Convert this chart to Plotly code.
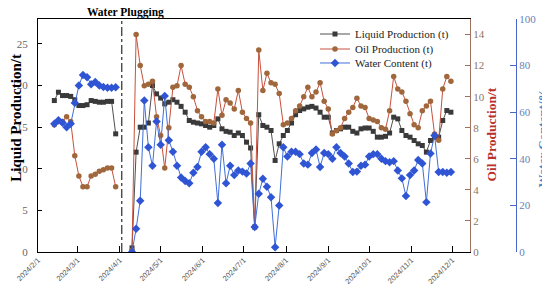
import pandas as pd
import plotly.graph_objects as go

# ---- data ----
# first period, sampled every 3 days from 2024-02-13
dates_1 = pd.date_range("2024-02-13", periods=16, freq="3D")
liquid_1 = [18.2, 19.2, 18.8, 18.8, 18.7, 18.3, 17.6, 17.6, 17.7, 18.2, 18.1, 18.0, 18.0, 18.1, 18.1, 14.2]
oil_1 = [8.2, 8.4, 8.4, 8.7, 8.4, 6.2, 4.9, 4.2, 4.2, 4.9, 5.0, 5.2, 5.3, 5.4, 5.4, 4.2]
water_1 = [55, 56.5, 55.5, 53.5, 55, 64, 71.5, 76, 75, 72, 73, 71.5, 70.8, 70.5, 70.5, 70.7]

# second period (after water plugging), every 3 days from 2024-04-10
dates_2 = pd.date_range("2024-04-10", periods=79, freq="3D")
liquid_2 = [0.5, 12.0, 15.0, 15.0, 15.5, 20.0, 19.0, 18.5, 17.8, 18.0,
            18.3, 18.0, 17.5, 16.8, 15.8, 15.6, 15.5, 15.4, 15.2, 15.0,
            15.2, 16.0, 14.8, 14.5, 14.4, 14.0, 14.3, 14.0, 13.2, 12.5,
            3.0, 16.5, 15.2, 15.0, 14.6, 11.0, 13.0, 14.0, 14.6, 15.5,
            16.5, 17.0, 17.2, 17.4, 17.5, 17.3, 16.8, 16.2, 16.2, 14.3,
            14.6, 14.8, 15.0, 15.0, 14.5, 14.3, 14.8, 14.9, 14.9, 14.5,
            13.8, 13.8, 13.9, 14.3, 16.2, 16.0, 14.6, 14.0, 13.8, 13.4,
            13.0, 12.8, 12.0, 13.4, 13.8, 13.8, 15.8, 17.0, 16.8]
oil_2 = [0.1, 14.0, 12.0, 10.7, 10.8, 11.0, 8.7, 7.5, 5.4, 8.0,
         10.6, 10.7, 12.0, 10.8, 10.6, 10.0, 9.1, 8.7, 8.4, 8.4,
         8.3, 10.5, 8.8, 9.8, 9.6, 9.2, 10.4, 9.0, 8.6, 8.3,
         1.6, 13.0, 10.4, 11.5, 10.9, 10.8, 10.2, 8.2, 8.3, 8.6,
         9.1, 9.4, 10.0, 10.6, 10.0, 10.3, 10.9, 9.7, 9.2, 7.6,
         7.8, 8.0, 8.6, 9.0, 9.3, 9.9, 9.4, 9.3, 8.6, 8.5,
         8.4, 8.0, 7.9, 9.1, 11.3, 10.5, 10.3, 9.7, 8.9, 8.2,
         8.0, 9.1, 9.4, 9.7, 7.6, 7.2, 10.5, 11.3, 11.0]
water_2 = [0, 10, 22, 65, 45, 37, 56, 46, 67, 48,
           43, 37, 32, 30.5, 29.5, 34, 36.5, 43, 45, 42,
           40, 21, 46, 29.5, 37, 33, 35, 34.5, 33.7, 38,
           10.7, 25, 31.4, 28, 23.5, 2, 20, 45, 41, 43,
           43, 42, 38, 37.5, 42.5, 44, 36.5, 42.5, 42, 40,
           45, 42.5, 41, 38, 34.3, 34.5, 37, 37.5, 41, 42,
           42, 40, 39, 38.5, 39, 35, 31.6, 24, 33, 35,
           39.5, 38, 21.4, 42.3, 50, 34.3, 34.3, 34.0, 34.3]

month_ticks = pd.date_range("2024-02-01", "2024-12-01", freq="MS")
month_labels = [f"{d.year}/{d.month}/1" for d in month_ticks]

plugging_date = "2024-04-02 12:00"

# break between the two periods
gap = [pd.Timestamp("2024-04-05")]
dates = list(dates_1) + gap + list(dates_2)
liquid = liquid_1 + [None] + liquid_2
oil = oil_1 + [None] + oil_2
water = water_1 + [None] + water_2

SERIF = "Liberation Serif, Times New Roman, serif"
OIL_AXIS = "#a0715e"
WATER_AXIS = "#4a66c8"

fig = go.Figure()
fig.add_trace(go.Scatter(
    x=dates, y=liquid, name="Liquid Production (t)", mode="lines+markers",
    line=dict(color="#505050", width=1),
    marker=dict(symbol="square", size=5, color="#3a3a3a"),
    yaxis="y", legend="legend"))
fig.add_trace(go.Scatter(
    x=dates, y=oil, name="Oil Production (t)", mode="lines+markers",
    line=dict(color="#c8503c", width=1),
    marker=dict(symbol="circle", size=5.5, color="#a0673c"),
    yaxis="y2", legend="legend2"))
fig.add_trace(go.Scatter(
    x=dates, y=water, name="Water Content (t)", mode="lines+markers",
    line=dict(color="#3f6fd8", width=1),
    marker=dict(symbol="diamond", size=6.5, color="#2f55d4"),
    yaxis="y3", legend="legend3"))

fig.add_shape(type="line", xref="x", yref="paper", x0=plugging_date, x1=plugging_date,
              y0=0, y1=1, line=dict(color="black", width=1, dash="dashdot"))


def legend_box(y):
    return dict(x=0.541, y=y, xanchor="left", yanchor="middle",
                bgcolor="rgba(0,0,0,0)", font=dict(family=SERIF, size=11, color="#222"),
                itemwidth=30)


def side_title(text, x, y, size, color):
    return dict(text=f"<b>{text}</b>", xref="paper", yref="paper", x=x, y=y,
                xanchor="center", yanchor="middle", textangle=-90, showarrow=False,
                font=dict(family=SERIF, size=size, color=color))


# the page body adds an 8px offset, so the figure is 8px smaller than the window
fig.update_layout(
    width=542, height=282,
    margin=dict(l=30, r=0, t=11, b=38),
    paper_bgcolor="white", plot_bgcolor="white",
    font=dict(family=SERIF, color="#222"),
    showlegend=True,
    legend=legend_box(0.9356),
    legend2=legend_box(0.8712),
    legend3=legend_box(0.8112),
    xaxis=dict(domain=[0, 0.84375], type="date",
               range=["2024-02-01", "2024-12-14"],
               tickvals=month_ticks, ticktext=month_labels, tickangle=-45,
               tickfont=dict(family="Liberation Sans, Arial, sans-serif", size=7.5, color="#555"),
               ticks="inside", ticklen=6, tickcolor="black",
               showline=True, linecolor="black", linewidth=1, mirror=True,
               showgrid=False, zeroline=False),
    yaxis=dict(range=[0, 28], tickvals=[0, 5, 10, 15, 20, 25],
               ticks="inside", ticklen=4, tickcolor="black",
               tickfont=dict(family=SERIF, size=11, color="#666"),
               ticklabelstandoff=7,
               showline=True, linecolor="black", linewidth=1,
               showgrid=False, zeroline=False),
    yaxis2=dict(overlaying="y", side="right", anchor="x",
                range=[0, 15], tickvals=[0, 2, 4, 6, 8, 10, 12, 14],
                ticks="inside", ticklen=5, tickcolor=OIL_AXIS,
                tickfont=dict(family=SERIF, size=11, color="#8f7466"),
                showline=True, linecolor=OIL_AXIS, linewidth=1,
                showgrid=False, zeroline=False),
    yaxis3=dict(overlaying="y", side="right", anchor="free", position=0.9336,
                range=[0, 100], tickvals=[0, 20, 40, 60, 80, 100],
                ticks="inside", ticklen=6, tickcolor=WATER_AXIS,
                tickfont=dict(family=SERIF, size=11, color="#6a7fb8"),
                showline=True, linecolor=WATER_AXIS, linewidth=1,
                showgrid=False, zeroline=False),
    annotations=[
        side_title("Liquid Production/t", -0.0445, 0.577, 15, "black"),
        side_title("Oil Production/t", 0.8867, 0.504, 13.5, "#b8302a"),
        side_title("Water Content/%", 0.986, 0.491, 13, "#3b86d1"),
        dict(text="<b>Water Plugging</b>", xref="paper", yref="paper",
             x=0.170, y=1.026, xanchor="center", yanchor="middle", showarrow=False,
             font=dict(family=SERIF, size=11.5, color="black")),
    ],
)

fig.write_html("out.html")
